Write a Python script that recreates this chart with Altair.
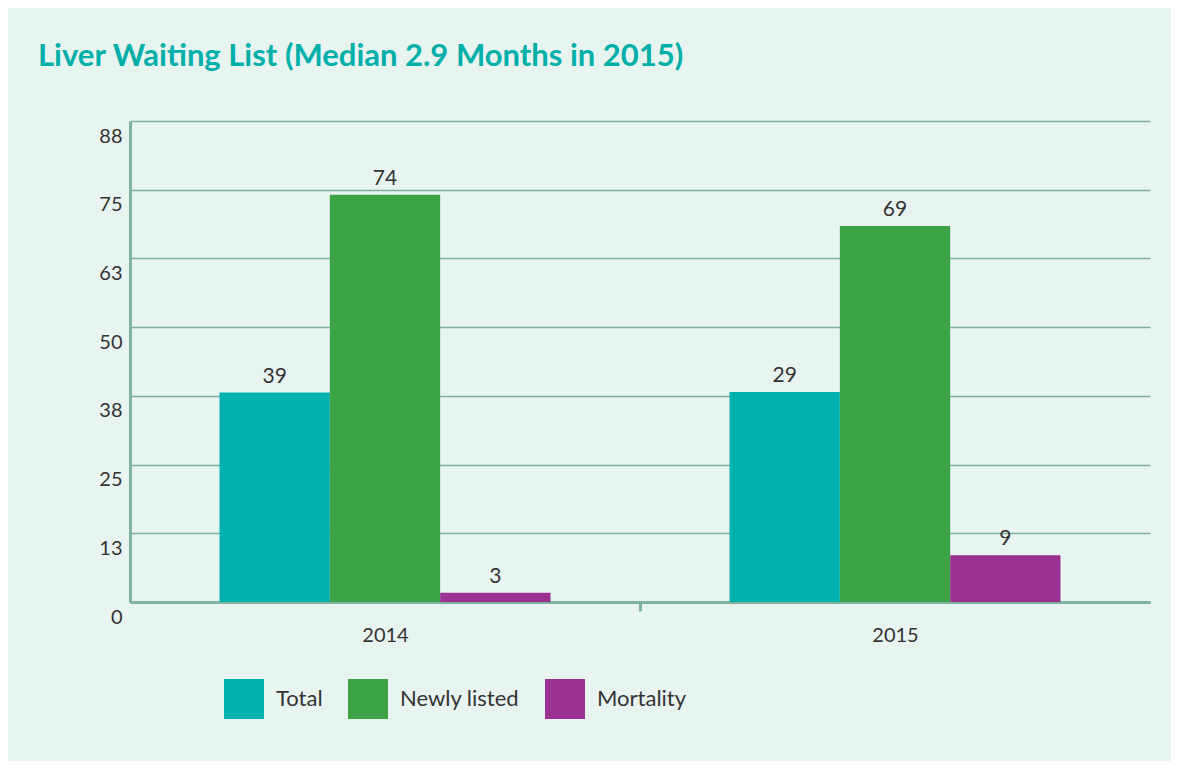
import altair as alt
import pandas as pd

years = ["2014", "2015"]
series = ["Total", "Newly listed", "Mortality"]
total_vals = [38.1, 38.2]
newly_vals = [74.1, 68.4]
mortality_vals = [1.7, 8.5]
# value labels as printed above the bars
total_labels = ["39", "29"]
newly_labels = ["74", "69"]
mortality_labels = ["3", "9"]
y_ticks = [0, 12.5, 25, 37.5, 50, 62.5, 75, 87.5]
colors = ["#00B1AD", "#3CA446", "#9B3191"]

rows = []
for i, y in enumerate(years):
    rows.append({"year": y, "series": "Total", "value": total_vals[i], "label": total_labels[i]})
    rows.append({"year": y, "series": "Newly listed", "value": newly_vals[i], "label": newly_labels[i]})
    rows.append({"year": y, "series": "Mortality", "value": mortality_vals[i], "label": mortality_labels[i]})
df = pd.DataFrame(rows)

FONT = "Lato"
GRID = "#7DB09B"
AXIS = "#7FB3A0"

x_enc = alt.X("year:N", title=None, sort=years,
              scale=alt.Scale(paddingInner=0.351, paddingOuter=0.1755),
              axis=alt.Axis(labelFontSize=20, labelColor="#333333", labelFont=FONT,
                            labelPadding=14, domainColor=AXIS, domainWidth=3,
                            tickColor=AXIS, tickWidth=3, tickSize=9,
                            tickOffset=255, labelOffset=-255,
                            tickOpacity={"condition": {"test": "datum.value === '2014'", "value": 1},
                                         "value": 0},
                            labelAngle=0))
xoff = alt.XOffset("series:N", sort=series, scale=alt.Scale(paddingInner=0, paddingOuter=0))
y_enc = alt.Y("value:Q", title=None,
              scale=alt.Scale(domain=[0, 87.5], nice=False, zero=True),
              axis=alt.Axis(values=y_ticks, labelExpr="round(datum.value)",
                            labelFontSize=20, labelColor="#333333", labelFont=FONT,
                            labelPadding=8, labelOffset=15, ticks=False,
                            domainColor=AXIS, domainWidth=3,
                            grid=True, gridColor=GRID, gridWidth=1.5))

bars = alt.Chart(df).mark_bar().encode(
    x=x_enc, xOffset=xoff, y=y_enc,
    color=alt.Color("series:N", sort=series,
                    scale=alt.Scale(domain=series, range=colors),
                    legend=alt.Legend(title=None, orient="none", direction="horizontal",
                                      legendX=94, legendY=558,
                                      symbolType="square", symbolSize=1600,
                                      symbolStrokeWidth=0, symbolOpacity=1,
                                      labelFontSize=22, labelFont=FONT, labelColor="#333333",
                                      labelOffset=12, columnPadding=25, padding=0)),
)

labels = alt.Chart(df).mark_text(baseline="alphabetic", dy=-10, fontSize=21,
                                 font=FONT, color="#333333").encode(
    x=alt.X("year:N", sort=years), xOffset=alt.XOffset("series:N", sort=series),
    y=alt.Y("value:Q"), text="label:N")

chart = alt.layer(bars, labels).properties(
    width=1020, height=481,
    background="#E8F4F0",
    autosize=alt.AutoSizeParams(type="none"),
    padding={"left": 122, "top": 113, "right": 21, "bottom": 159},
    title=alt.TitleParams("Liver Waiting List (Median 2.9 Months in 2015)",
                          anchor="start", frame="group", font=FONT, fontSize=31,
                          fontWeight="bold", color="#00AFA9", dx=-92, offset=48),
).configure_view(stroke=None)

chart.save("out.html", embed_options={"renderer": "svg", "actions": False})
